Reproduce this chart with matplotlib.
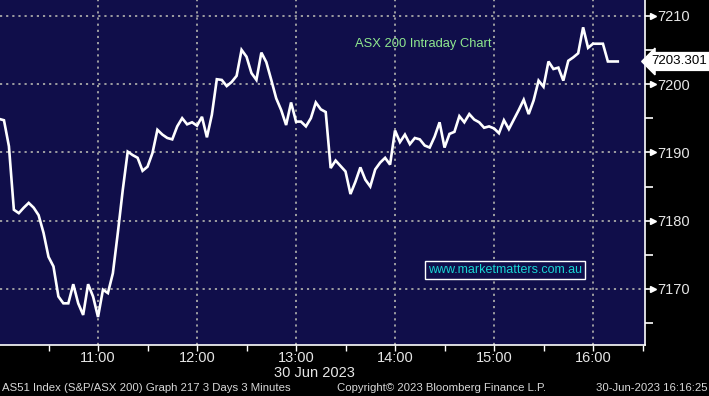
import numpy as np
import pandas as pd
import matplotlib
matplotlib.use("Agg")
import matplotlib.pyplot as plt
import matplotlib.dates as mdates

plt.rcParams["font.family"] = ["Liberation Sans", "DejaVu Sans"]

# ASX 200 intraday, 3-minute bars from 10:00 to 16:15
values = [
    7194.9, 7194.7, 7190.9, 7181.6, 7181.1, 7181.9, 7182.6, 7181.9, 7180.8, 7178.2,
    7174.7, 7173.3, 7168.9, 7167.9, 7167.9, 7170.7, 7167.9, 7166.2, 7170.7, 7168.9,
    7165.9, 7169.9, 7169.4, 7172.3, 7178.2, 7184.5, 7190.1, 7189.6, 7189.2, 7187.3,
    7187.9, 7189.9, 7193.3, 7192.6, 7192.1, 7191.9, 7193.8, 7195.0, 7194.1, 7194.4,
    7193.9, 7195.2, 7192.2, 7195.5, 7200.7, 7200.6, 7199.7, 7200.3, 7201.2, 7205.0,
    7204.0, 7201.6, 7200.6, 7204.6, 7203.2, 7200.6, 7197.9, 7196.2, 7194.0, 7197.3,
    7194.5, 7194.5, 7193.8, 7195.0, 7197.3, 7196.3, 7195.9, 7187.7, 7188.8, 7188.0,
    7187.2, 7183.9, 7185.7, 7187.8, 7186.0, 7185.0, 7187.5, 7188.5, 7189.2, 7188.2,
    7193.2, 7191.5, 7192.6, 7191.2, 7192.1, 7191.9, 7191.0, 7190.7, 7192.3, 7194.4,
    7190.7, 7192.7, 7193.0, 7195.3, 7194.4, 7195.6, 7194.8, 7194.4, 7193.6, 7193.8,
    7193.5, 7192.8, 7194.7, 7193.4, 7194.8, 7196.2, 7197.7, 7195.6, 7197.6, 7200.5,
    7199.6, 7203.3, 7202.2, 7202.4, 7200.5, 7203.4, 7203.9, 7204.5, 7208.3, 7205.3,
    7205.9, 7205.9, 7205.9, 7203.3, 7203.3, 7203.3,
]
times = pd.date_range("2023-06-30 10:00", periods=len(values), freq="3min")

y_major = [7170, 7180, 7190, 7200, 7210]
y_minor = [7165, 7175, 7185, 7195, 7205]
last_price = 7203.301

BG = "#100e4a"
GRID = "#a8a8a8"
TXT = "#e6e6e6"
W, H = 709, 396

fig = plt.figure(figsize=(W / 100, H / 100), dpi=100, facecolor="black")
ax = fig.add_axes([0, 51 / H, 645 / W, 345 / H])
ax.set_facecolor(BG)

ax.plot(times, values, color="white", lw=1.9, solid_joinstyle="miter")

ax.set_xlim(pd.Timestamp("2023-06-30 10:00:36"), pd.Timestamp("2023-06-30 16:31:30"))
ax.set_ylim(7161.8, 7212.3)

# ticks + dotted grid
ax.set_yticks(y_major)
ax.set_yticks(y_minor, minor=True)
ax.xaxis.set_major_locator(mdates.HourLocator(byhour=range(11, 17)))
ax.xaxis.set_minor_locator(mdates.MinuteLocator(byminute=[30]))
ax.xaxis.set_major_formatter(mdates.DateFormatter("%H:%M"))
ax.grid(True, which="major", color=GRID, ls=(0, (1.2, 2.2)), lw=1.3)

for s in ["top", "left"]:
    ax.spines[s].set_visible(False)
for s in ["right", "bottom"]:
    ax.spines[s].set_color("white")
    ax.spines[s].set_linewidth(1.2)

ax.yaxis.tick_right()
ax.tick_params(axis="y", which="both", colors="white", labelcolor=TXT,
               direction="out", length=7, width=1.2, labelsize=10.5, pad=1.5)
ax.tick_params(axis="y", which="minor", length=6)
ax.tick_params(axis="x", which="both", colors="white", labelcolor=TXT,
               direction="out", length=4, width=1, labelsize=10.5, pad=0.5)

# little arrow heads on the major y ticks
for v in y_major:
    ax.plot([1.012], [v], marker=">", ms=4.5, color="white",
            transform=ax.get_yaxis_transform(), clip_on=False)

# last price tag
ax.text(1.01, last_price, f"{last_price:.3f}", transform=ax.get_yaxis_transform(),
        ha="left", va="center", fontsize=9.6, color="black",
        bbox=dict(boxstyle="larrow,pad=0.22", fc="white", ec="white"))

fig.text(355 / W, 1 - 44 / H, "ASX 200 Intraday Chart", color="#8fe88f",
         fontsize=9.3, ha="left", va="center")
fig.text(428 / W, 1 - 270 / H, "www.marketmatters.com.au", color="#19d4d4",
         fontsize=9, ha="left", va="center",
         bbox=dict(boxstyle="square,pad=0.25", fc=BG, ec="white", lw=1))

fig.text(314 / W, 1 - 373 / H, "30 Jun 2023", color=TXT, fontsize=10.5,
         ha="center", va="center")
fig.text(2 / W, 1 - 388 / H, "AS51 Index (S&P/ASX 200) Graph 217 3 Days 3 Minutes",
         color="#d8d8d8", fontsize=8.2, ha="left", va="center")
fig.text(337 / W, 1 - 388 / H, "Copyright\u00a9 2023 Bloomberg Finance L.P.",
         color="#d8d8d8", fontsize=8.2, ha="left", va="center")
fig.text(707 / W, 1 - 388 / H, "30-Jun-2023 16:16:25",
         color="#d8d8d8", fontsize=8.2, ha="right", va="center")

fig.savefig("out.png", dpi=100, facecolor="black")
